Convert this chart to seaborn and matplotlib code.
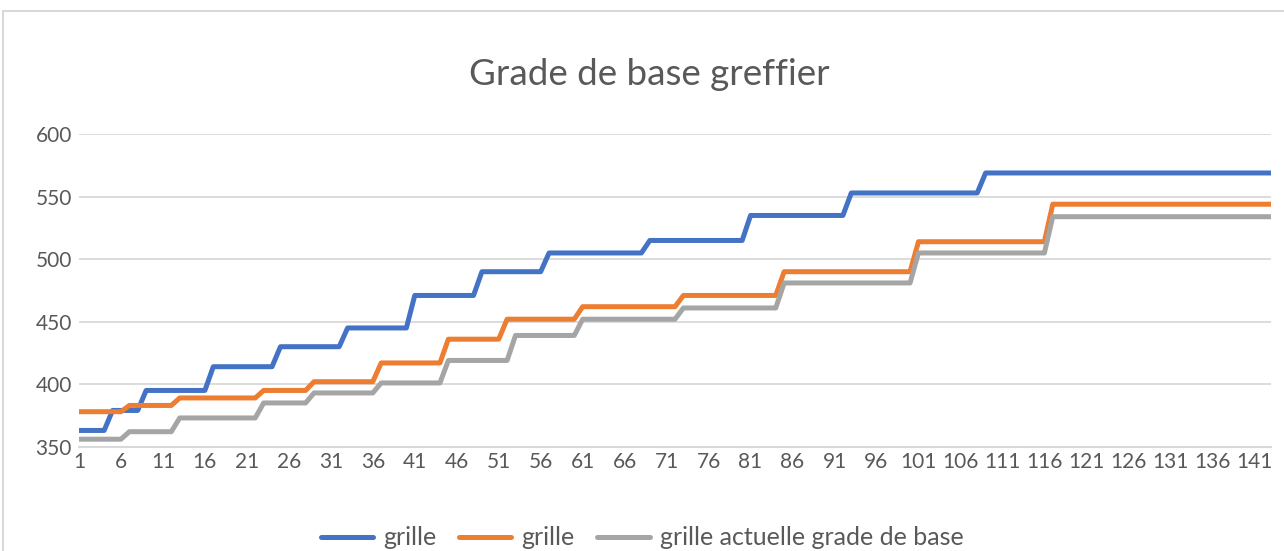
import numpy as np
import pandas as pd
import matplotlib.pyplot as plt
import seaborn as sns

n_months = 143

# step levels, with the month where each level starts
blue_starts = [1, 5, 9, 17, 25, 33, 41, 49, 57, 69, 81, 93, 109]
blue_levels = [363, 379, 395, 414, 430, 445, 471, 490, 505, 515, 535, 553, 569]

orange_starts = [1, 7, 13, 23, 29, 37, 45, 52, 61, 73, 85, 101, 117]
orange_levels = [378, 383, 389, 395, 402, 417, 436, 452, 462, 471, 490, 514, 544]

gray_starts = [1, 7, 13, 23, 29, 37, 45, 53, 61, 73, 85, 101, 117]
gray_levels = [356, 362, 373, 385, 393, 401, 419, 439, 452, 461, 481, 505, 534]

labels = ['grille', 'grille', 'grille actuelle grade de base']
colors = ['#4472C4', '#ED7D31', '#A5A5A5']


def expand(starts, levels):
    durations = np.diff(starts + [n_months + 1])
    return np.repeat(levels, durations)


months = np.arange(1, n_months + 1)
df = pd.DataFrame({
    'mois': months,
    'blue': expand(blue_starts, blue_levels),
    'orange': expand(orange_starts, orange_levels),
    'gray': expand(gray_starts, gray_levels),
})

sns.set_theme(style='white')
plt.rcParams['font.family'] = ['Lato', 'DejaVu Sans']

fig = plt.figure(figsize=(12.84, 5.51), dpi=100)
ax = fig.add_axes([0.0615, 0.1893, 0.9284, 0.5671])

for col, lab, c in zip(['blue', 'orange', 'gray'], labels, colors):
    sns.lineplot(data=df, x='mois', y=col, ax=ax, color=c, lw=3.6, label=lab)

ax.set_xlim(1, n_months)
ax.set_ylim(350, 600)
ax.set_xticks(np.arange(1, n_months + 1, 5))
ax.set_yticks(np.arange(350, 601, 50))
ax.set_xlabel('')
ax.set_ylabel('')
ax.yaxis.grid(True, color='#D9D9D9', lw=1.3)
ax.set_axisbelow(True)
for s in ['top', 'right', 'left']:
    ax.spines[s].set_visible(False)
ax.spines['bottom'].set_color('#D9D9D9')
ax.spines['bottom'].set_linewidth(1.5)
ax.tick_params(axis='both', length=0, labelsize=15, labelcolor='#595959')
ax.tick_params(axis='y', pad=5)
ax.tick_params(axis='x', pad=4)

fig.text(0.506, 0.864, 'Grade de base greffier', ha='center', va='center',
         fontsize=26.5, color='#595959')

ax.legend_.remove()
handles, labs = ax.get_legend_handles_labels()
fig.legend(handles, labs, loc='center', bbox_to_anchor=(0.5, 0.024), ncol=3,
           frameon=False, fontsize=18, handlelength=2.1, handletextpad=0.4,
           columnspacing=0.9, labelcolor='#595959')

fig.patches.append(plt.Rectangle((0.0023, -0.01), 1.0, 0.99, fill=False,
                                 edgecolor='#D9D9D9', lw=1.5,
                                 transform=fig.transFigure, figure=fig))

fig.savefig('out.png', dpi=100)
